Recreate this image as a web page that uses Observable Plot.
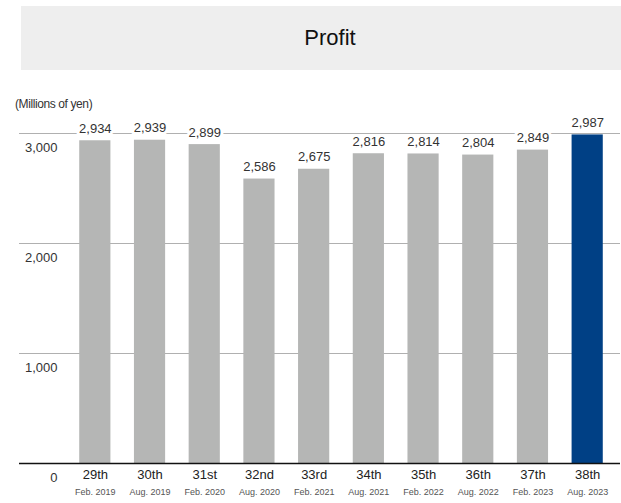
<!DOCTYPE html>
<html>
<head>
<meta charset="utf-8">
<script src="https://cdn.jsdelivr.net/npm/d3@7"></script>
<script src="https://cdn.jsdelivr.net/npm/@observablehq/plot@0.6"></script>
<style>
  body { margin: 0; background: #fff; font-family: "Liberation Sans", Arial, sans-serif; }
  #wrap { position: relative; width: 621px; height: 503px; overflow: hidden; }
  #title { position: absolute; left: 21px; top: 6px; width: 600px; height: 64px; background: #eeeeee;
           box-sizing: border-box; padding-left: 18px; text-align: center; line-height: 64px; font-size: 22px; color: #111; }
  #unit { position: absolute; left: 15px; top: 97px; font-size: 12px; color: #333; letter-spacing: -0.4px; }
  #chart { position: absolute; left: 0; top: 75px; }
</style>
</head>
<body>
<div id="wrap">
  <div id="title">Profit</div>
  <div id="unit">(Millions of yen)</div>
  <div id="chart"></div>
</div>
<script>
const periods = ["29th","30th","31st","32nd","33rd","34th","35th","36th","37th","38th"];
const dates = ["Feb. 2019","Aug. 2019","Feb. 2020","Aug. 2020","Feb. 2021","Aug. 2021","Feb. 2022","Aug. 2022","Feb. 2023","Aug. 2023"];
const profit = [2934, 2939, 2899, 2586, 2675, 2816, 2814, 2804, 2849, 2987];
const yTicks = [0, 1000, 2000, 3000];
const highlight = "38th";

const data = periods.map((p, i) => ({period: p, date: dates[i], value: profit[i]}));
const fmt = d3.format(",");

const chart = Plot.plot({
  width: 621,
  height: 428,
  marginLeft: 62,
  marginRight: 1,
  marginTop: 58,
  marginBottom: 40,
  style: {fontFamily: "'Liberation Sans', Arial, sans-serif", fontSize: "13px", color: "#222", background: "transparent", overflow: "visible"},
  x: {domain: periods, paddingInner: 0.43, paddingOuter: 0.315, round: false, label: null},
  y: {domain: [0, 3000], label: null},
  marks: [
    Plot.ruleY(yTicks.filter(d => d > 0), {stroke: "#b0b0b0", strokeWidth: 1, insetLeft: -43}),
    Plot.barY(data, {x: "period", y: "value", fill: d => d.period === highlight ? "#004085" : "#b5b6b5"}),
    Plot.ruleY([0], {stroke: "#111", strokeWidth: 1.5, insetLeft: -43}),
    Plot.text(data, {x: "period", y: "value", text: d => fmt(d.value), dy: -12, fontSize: 13, fill: "#333", stroke: "white", strokeWidth: 6, paintOrder: "stroke"}),
    Plot.axisY({ticks: yTicks, tickFormat: fmt, tickSize: 0, tickPadding: 5, dy: 14, fontSize: 13, fill: "#333"}),
    Plot.axisX({tickSize: 0, tickPadding: 6, fontSize: 13, fill: "#222"}),
    Plot.text(data, {x: "period", text: "date", frameAnchor: "bottom", dy: 31, fontSize: 9, fill: "#555"})
  ]
});
document.getElementById("chart").appendChild(chart);
</script>
</body>
</html>
